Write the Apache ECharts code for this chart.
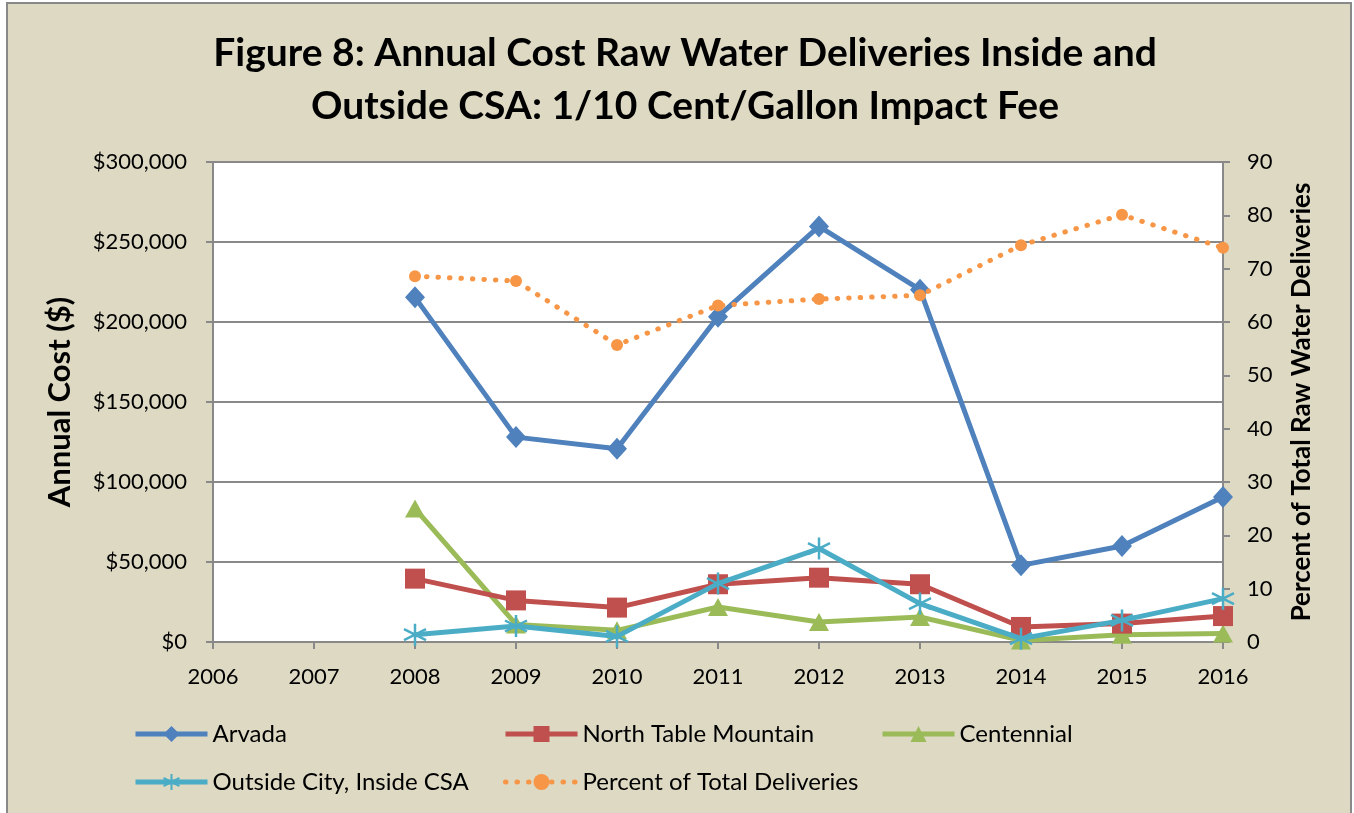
<!DOCTYPE html>
<html lang="en">
<head>
    <meta charset="UTF-8">
    <title>Figure 8</title>
    <script src="https://cdn.jsdelivr.net/npm/echarts@6/dist/echarts.min.js"></script>
    <style>
        html, body { margin: 0; padding: 0; background: #fff; }
        #main { width: 1354px; height: 813px; }
    </style>
</head>
<body>
<div id="main"></div>
<script type="text/javascript">
    // years on the x axis
    var years = ['2006', '2007', '2008', '2009', '2010', '2011', '2012', '2013', '2014', '2015', '2016'];

    // annual cost ($), left axis
    var arvada = [null, null, 215400, 128050, 120800, 203300, 259700, 220200, 47900, 60000, 90600];
    var northTable = [null, null, 39600, 26000, 21500, 36100, 40200, 36100, 9400, 11500, 16200];
    var centennial = [null, null, 83400, 11000, 7300, 21900, 12500, 15600, 1000, 4500, 5300];
    var outsideCity = [null, null, 4600, 10000, 3500, 36500, 58400, 24000, 2100, 13500, 27100];

    // percent of total deliveries, right axis
    var percentTotal = [null, null, 68.6, 67.7, 55.7, 63.1, 64.3, 65.0, 74.4, 80.1, 73.9];

    var font = 'Lato';
    var grayLine = '#898989';
    var asterisk = 'path://M0,-10L0,10M-8.66,-5L8.66,5M-8.66,5L8.66,-5';

    var myChart = echarts.init(document.getElementById('main'));

    function legendAt(name, left, top) {
        return {
            data: [name],
            left: left,
            top: top,
            padding: 0,
            itemWidth: 72,
            itemHeight: 20,
            lineStyle: { width: 5 },
            textStyle: { fontFamily: font, fontSize: 24, color: '#000' }
        };
    }

    var option = {
        animation: false,
        backgroundColor: '#fff',
        graphic: [{
            type: 'rect',
            z: -10,
            shape: { x: 7, y: 3, width: 1344, height: 830 },
            style: { fill: '#DDD9C3', stroke: grayLine, lineWidth: 2 }
        }],
        title: {
            text: 'Figure 8: Annual Cost Raw Water Deliveries Inside and\nOutside CSA: 1/10 Cent/Gallon Impact Fee',
            left: 680,
            textAlign: 'center',
            top: 22,
            textStyle: {
                fontFamily: font,
                fontSize: 39,
                fontWeight: 'bold',
                lineHeight: 53,
                color: '#000'
            }
        },
        legend: [
            legendAt('Arvada', 133, 722),
            legendAt('North Table Mountain', 503, 722),
            legendAt('Centennial', 880, 722),
            legendAt('Outside City, Inside CSA', 133, 770),
            legendAt('Percent of Total Deliveries', 503, 770)
        ],
        grid: {
            left: 213,
            right: 131,
            top: 162,
            bottom: 171,
            show: true,
            backgroundColor: '#fff',
            borderWidth: 0
        },
        xAxis: {
            type: 'category',
            boundaryGap: false,
            data: years,
            axisLine: { lineStyle: { color: grayLine, width: 2 } },
            axisTick: { show: true, length: 7, lineStyle: { color: grayLine, width: 2 } },
            axisLabel: { fontFamily: font, fontSize: 22, color: '#000', margin: 24 }
        },
        yAxis: [
            {
                type: 'value',
                min: 0,
                max: 300000,
                interval: 50000,
                name: 'Annual Cost ($)',
                nameLocation: 'middle',
                nameGap: 138,
                nameTextStyle: { fontFamily: font, fontSize: 31, fontWeight: 'bold', color: '#000' },
                axisLine: { show: true, lineStyle: { color: grayLine, width: 2 } },
                axisTick: { show: true, length: 7, lineStyle: { color: grayLine, width: 2 } },
                axisLabel: {
                    fontFamily: font, fontSize: 22, color: '#000', margin: 26,
                    formatter: function (v) { return '$' + v.toLocaleString('en-US'); }
                },
                splitLine: { lineStyle: { color: grayLine, width: 2 } }
            },
            {
                type: 'value',
                position: 'right',
                min: 0,
                max: 90,
                interval: 10,
                name: 'Percent of Total Raw Water Deliveries',
                nameLocation: 'middle',
                nameGap: 66,
                nameTextStyle: { fontFamily: font, fontSize: 26, fontWeight: 'bold', color: '#000' },
                axisLine: { show: true, lineStyle: { color: grayLine, width: 2 } },
                axisTick: { show: true, length: 7, lineStyle: { color: grayLine, width: 2 } },
                axisLabel: { fontFamily: font, fontSize: 22, color: '#000', margin: 24 },
                splitLine: { show: false }
            }
        ],
        series: [
            {
                name: 'Arvada',
                type: 'line',
                data: arvada,
                symbol: 'diamond',
                symbolSize: [20, 22],
                lineStyle: { color: '#4F81BD', width: 5 },
                itemStyle: { color: '#4F81BD' },
                z: 5
            },
            {
                name: 'North Table Mountain',
                type: 'line',
                data: northTable,
                symbol: 'rect',
                symbolSize: 20,
                lineStyle: { color: '#C0504D', width: 5 },
                itemStyle: { color: '#C0504D' },
                z: 3
            },
            {
                name: 'Centennial',
                type: 'line',
                data: centennial,
                symbol: 'triangle',
                symbolSize: [20, 18],
                lineStyle: { color: '#9BBB59', width: 5 },
                itemStyle: { color: '#9BBB59' },
                z: 2
            },
            {
                name: 'Outside City, Inside CSA',
                type: 'line',
                data: outsideCity,
                symbol: asterisk,
                symbolSize: 22,
                lineStyle: { color: '#4BACC6', width: 5 },
                itemStyle: { color: 'none', borderColor: '#4BACC6', borderWidth: 2.5 },
                z: 4
            },
            {
                name: 'Percent of Total Deliveries',
                type: 'line',
                yAxisIndex: 1,
                data: percentTotal,
                symbol: 'circle',
                symbolSize: 12,
                lineStyle: { color: '#F79646', width: 5, type: [0.5, 11], cap: 'round' },
                itemStyle: { color: '#F79646' },
                z: 6
            }
        ]
    };

    myChart.setOption(option);
</script>
</body>
</html>
